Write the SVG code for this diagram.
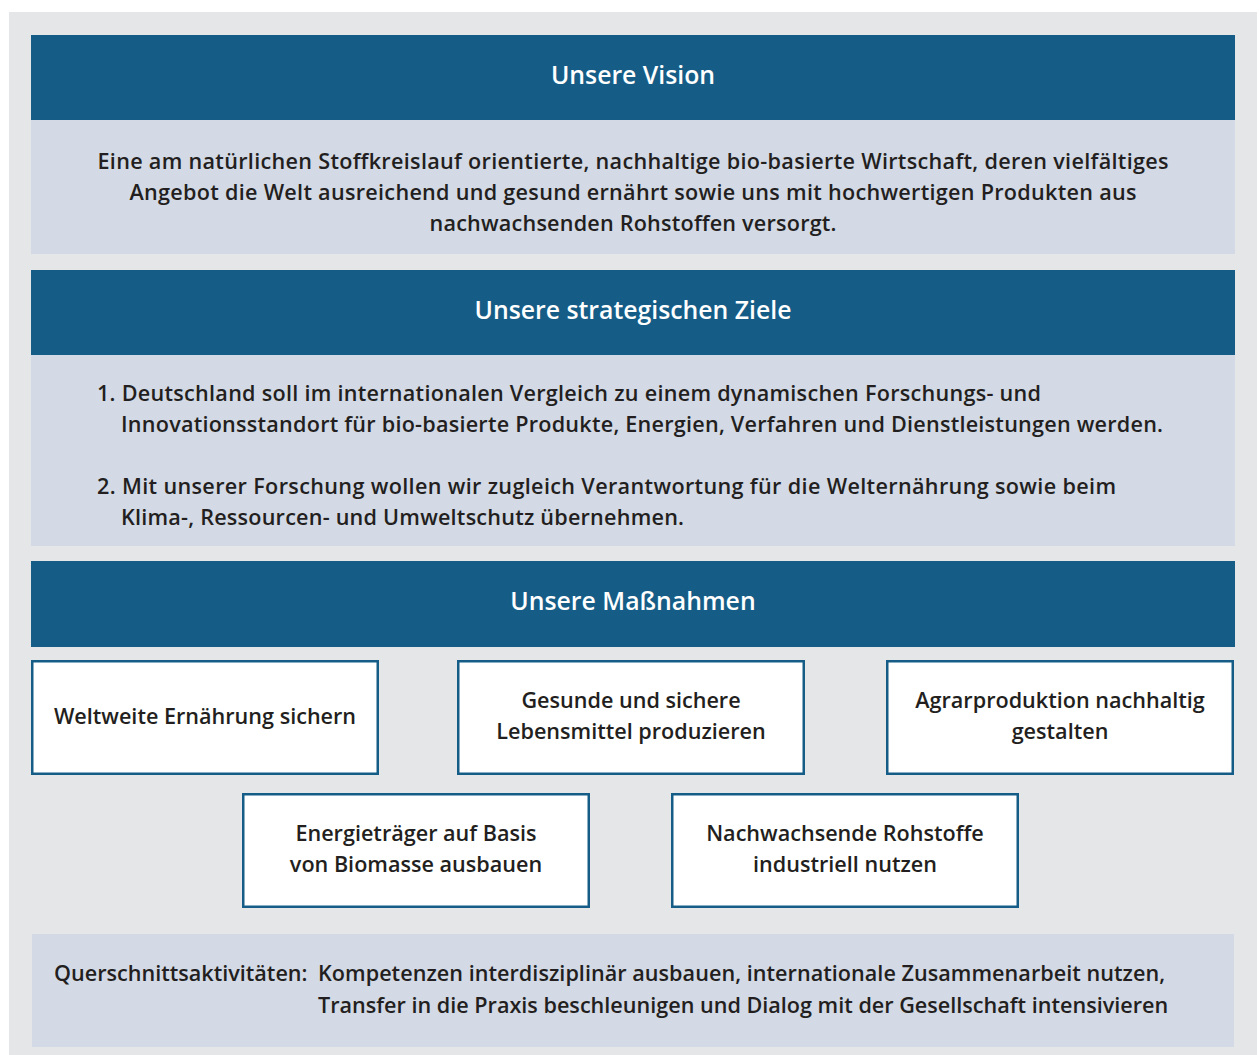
<svg xmlns="http://www.w3.org/2000/svg" width="1260" height="1055" viewBox="0 0 1260 1055">
<style>
.bg{fill:#e5e6e8}
.hdr{fill:#155d87}
.pane{fill:#d3dae6}
.box{fill:#ffffff;stroke:#155d87;stroke-width:2.5}
text{font-family:"Open Sans","Noto Sans","Liberation Sans",sans-serif;font-weight:600}
.h{fill:#ffffff;font-size:24.8px;text-anchor:middle}
.t{fill:#231f20;font-size:21.6px}
.c{text-anchor:middle}
</style>
<rect width="1260" height="1055" fill="#ffffff"/>
<rect class="bg" x="9" y="12" width="1248" height="1043"/>
<g id="vision-header"><rect class="hdr" x="31" y="35" width="1204" height="85"/><text class="h" x="633" y="84">Unsere Vision</text></g>
<g id="vision-text"><rect class="pane" x="31" y="120" width="1204" height="134"/>
<text class="t c" x="633" y="169" textLength="1071" lengthAdjust="spacing">Eine am natürlichen Stoffkreislauf orientierte, nachhaltige bio-basierte Wirtschaft, deren vielfältiges</text>
<text class="t c" x="633" y="200" textLength="1007" lengthAdjust="spacing">Angebot die Welt ausreichend und gesund ernährt sowie uns mit hochwertigen Produkten aus</text>
<text class="t c" x="633" y="231" textLength="407" lengthAdjust="spacing">nachwachsenden Rohstoffen versorgt.</text></g>
<g id="ziele-header"><rect class="hdr" x="31" y="270" width="1204" height="85"/><text class="h" x="633" y="319">Unsere strategischen Ziele</text></g>
<g id="ziele-text"><rect class="pane" x="31" y="355" width="1204" height="191"/>
<text class="t" x="97" y="401" textLength="944" lengthAdjust="spacing">1. Deutschland soll im internationalen Vergleich zu einem dynamischen Forschungs- und</text>
<text class="t" x="121" y="432" textLength="1042" lengthAdjust="spacing">Innovationsstandort für bio-basierte Produkte, Energien, Verfahren und Dienstleistungen werden.</text>
<text class="t" x="97" y="494" textLength="1019" lengthAdjust="spacing">2. Mit unserer Forschung wollen wir zugleich Verantwortung für die Welternährung sowie beim</text>
<text class="t" x="121" y="525" textLength="563" lengthAdjust="spacing">Klima-, Ressourcen- und Umweltschutz übernehmen.</text></g>
<g id="massnahmen-header"><rect class="hdr" x="31" y="561" width="1204" height="86"/><text class="h" x="633" y="610">Unsere Maßnahmen</text></g>
<g id="m1"><rect class="box" x="32.25" y="661.25" width="345.5" height="112.5"/><text class="t c" x="205" y="724">Weltweite Ernährung sichern</text></g>
<g id="m2"><rect class="box" x="458.25" y="661.25" width="345.5" height="112.5"/><text class="t c" x="631" y="708">Gesunde und sichere</text><text class="t c" x="631" y="739">Lebensmittel produzieren</text></g>
<g id="m3"><rect class="box" x="887.25" y="661.25" width="345.5" height="112.5"/><text class="t c" x="1060" y="708">Agrarproduktion nachhaltig</text><text class="t c" x="1060" y="739">gestalten</text></g>
<g id="m4"><rect class="box" x="243.25" y="794.25" width="345.5" height="112.5"/><text class="t c" x="416" y="841">Energieträger auf Basis</text><text class="t c" x="416" y="872">von Biomasse ausbauen</text></g>
<g id="m5"><rect class="box" x="672.25" y="794.25" width="345.5" height="112.5"/><text class="t c" x="845" y="841">Nachwachsende Rohstoffe</text><text class="t c" x="845" y="872">industriell nutzen</text></g>
<g id="querschnitt"><rect class="pane" x="32" y="934" width="1202" height="113"/>
<text class="t" x="54" y="981">Querschnittsaktivitäten:</text>
<text class="t" x="318" y="981" textLength="847" lengthAdjust="spacing">Kompetenzen interdisziplinär ausbauen, internationale Zusammenarbeit nutzen,</text>
<text class="t" x="318" y="1013">Transfer in die Praxis beschleunigen und Dialog mit der Gesellschaft intensivieren</text></g>
<g id="connectors"/>
</svg>
